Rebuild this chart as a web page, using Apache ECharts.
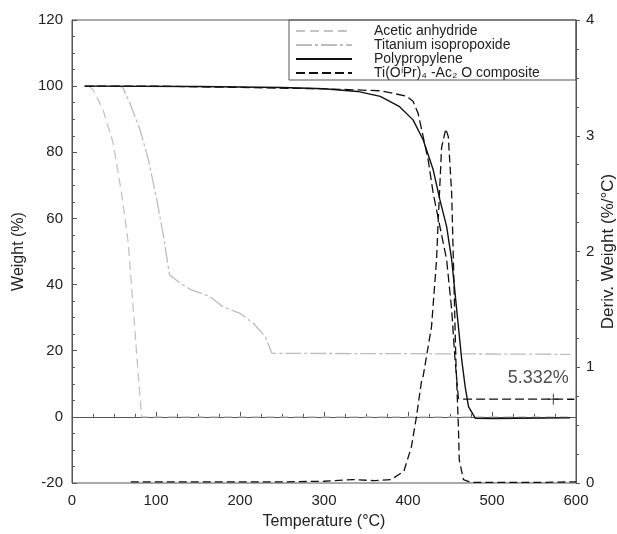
<!DOCTYPE html>
<html>
<head>
<meta charset="utf-8">
<script src="https://cdn.jsdelivr.net/npm/echarts@6/dist/echarts.min.js"></script>
<style>html,body{margin:0;padding:0;background:#fff}#c{width:617px;height:534px}</style>
</head>
<body>
<div id="c"></div>
<script>
// Temperature (°C) / Weight (%) pairs
const aceticAnhydride = [[20,100],[25,99],[37,92.8],[49,82.8],[59,67.6],[67,52.5],[73,32.4],[79,12.2],[83,0],[593,0]];
const titaniumIsopropoxide = [[20,100],[58,100],[61,99.3],[69,94.8],[81,86.8],[91,77.7],[101,65.6],[109,54.5],[116,43],[129,40.4],[142,38.4],[164,36.4],[180,33.3],[200,31.3],[216,28.3],[230,24.3],[238,19.2],[400,19.1],[593,18.9]];
const polypropylene = [[15,100],[150,99.9],[250,99.6],[300,99.2],[340,98.4],[367,96.9],[390,93.8],[406,89.8],[418,83.8],[430,74.7],[438,65.6],[446,57.5],[452,47.5],[456,37.4],[460,27.3],[464,17.2],[468,9.2],[472,3.1],[480,-0.4],[500,-0.5],[593,-0.3]];
const compositeTGA = [[15,100],[100,100],[200,99.6],[300,99.2],[367,98.6],[398,97],[406,95.4],[412,91.8],[418,84.8],[424,77.7],[430,67.6],[438,57.5],[446,47.5],[452,32.4],[456,17.2],[460,5.6],[463,5.35],[598,5.33]];
// Temperature (°C) / Deriv. weight (%/°C)
const compositeDTG = [[70,0.01],[170,0.01],[250,0.01],[300,0.015],[335,0.03],[360,0.02],[380,0.03],[395,0.1],[404,0.31],[410,0.57],[416,0.875],[418,0.92],[428,1.35],[434,1.93],[436,2.27],[440,2.9],[445,3.06],[448,2.99],[452,2.5],[455,1.64],[457,1.06],[460,0.49],[461,0.2],[466,0.03],[475,0.005],[555,0.005],[600,0.01]];
const residueMark = [[573,5.332]];
const residueLabel = '5.332%';
const legendNames = ['Acetic anhydride','Titanium isopropoxide','Polypropylene','Ti(O\u2071Pr)\u2084 -Ac\u2082 O composite'];
const xTicks = {min:0,max:600,interval:100};
const yLeftTicks = {min:-20,max:120,interval:20};
const yRightTicks = {min:0,max:4,interval:1};

const FONT = "'Liberation Sans', Arial, sans-serif";
const axisColor = '#555';
const chart = echarts.init(document.getElementById('c'));
chart.setOption({
  animation:false,
  backgroundColor:'#fff',
  grid:{left:72,right:41,top:20,bottom:51,containLabel:false,outerBoundsMode:'none',show:true,borderColor:axisColor,borderWidth:1},
  legend:{
    data:legendNames,orient:'vertical',left:290,top:19,itemWidth:56,itemHeight:8,itemGap:0,
    itemStyle:{opacity:0},
    textStyle:{fontFamily:FONT,fontSize:14,lineHeight:14,color:'#222',padding:[0,0,0,17]},
    selectedMode:false
  },
  graphic:[{type:'rect',shape:{x:289,y:20,width:287,height:60},style:{fill:'none',stroke:axisColor,lineWidth:1},z:100}],
  xAxis:{
    type:'value',min:xTicks.min,max:xTicks.max,interval:xTicks.interval,
    name:'Temperature (°C)',nameLocation:'middle',nameGap:31,nameMoveOverlap:false,
    nameTextStyle:{fontFamily:FONT,fontSize:16,color:'#222'},
    axisLine:{lineStyle:{color:axisColor}},
    axisTick:{inside:true,length:5,lineStyle:{color:axisColor}},
    minorTick:{show:true,splitNumber:4,length:3,lineStyle:{color:axisColor}},
    axisLabel:{fontFamily:FONT,fontSize:15,color:'#222',margin:10},
    splitLine:{show:false}
  },
  yAxis:[{
    type:'value',min:yLeftTicks.min,max:yLeftTicks.max,interval:yLeftTicks.interval,
    name:'Weight (%)',nameLocation:'middle',nameGap:45,nameMoveOverlap:false,
    nameTextStyle:{fontFamily:FONT,fontSize:16,color:'#222'},
    axisLine:{show:true,lineStyle:{color:axisColor}},
    axisTick:{inside:true,length:5,lineStyle:{color:axisColor}},
    minorTick:{show:true,splitNumber:4,length:3,lineStyle:{color:axisColor}},
    axisLabel:{fontFamily:FONT,fontSize:15,color:'#222',margin:9},
    splitLine:{show:false}
  },{
    type:'value',min:yRightTicks.min,max:yRightTicks.max,interval:yRightTicks.interval,position:'right',
    name:'Deriv. Weight (%/°C)',nameLocation:'middle',nameGap:24,nameRotate:90,nameMoveOverlap:false,
    nameTextStyle:{fontFamily:FONT,fontSize:17,color:'#222'},
    axisLine:{show:true,lineStyle:{color:axisColor}},
    axisTick:{inside:false,length:4,lineStyle:{color:axisColor}},
    minorTick:{show:true,splitNumber:4,length:3,lineStyle:{color:axisColor}},
    axisLabel:{fontFamily:FONT,fontSize:15,color:'#222',margin:10},
    splitLine:{show:false}
  }],
  series:[
    {name:legendNames[0],type:'line',data:aceticAnhydride,symbol:'none',color:'#c4c4c4',lineStyle:{color:'#c4c4c4',width:1.3,type:[9,5]}},
    {name:legendNames[1],type:'line',data:titaniumIsopropoxide,symbol:'none',color:'#bdbdbd',lineStyle:{color:'#bdbdbd',width:1.3,type:[16,3,3,3]}},
    {name:legendNames[2],type:'line',data:polypropylene,symbol:'none',color:'#111',lineStyle:{color:'#111',width:1.4,type:'solid'}},
    {name:legendNames[3],type:'line',data:compositeTGA,symbol:'none',color:'#111',lineStyle:{color:'#111',width:1.3,type:[9,4]}},
    {name:'DTG',type:'line',yAxisIndex:1,data:compositeDTG,symbol:'none',color:'#111',lineStyle:{color:'#111',width:1.3,type:[8,4]}},
    {name:'residue',type:'scatter',data:residueMark,symbol:'path://M0,5L10,5M5,0L5,10',symbolSize:11,
      itemStyle:{color:'none',borderColor:'#111',borderWidth:1},
      label:{show:true,formatter:residueLabel,position:'top',distance:4,offset:[-15,0],fontFamily:FONT,fontSize:18,color:'#222'},z:10}
  ]
});
</script>
</body>
</html>
